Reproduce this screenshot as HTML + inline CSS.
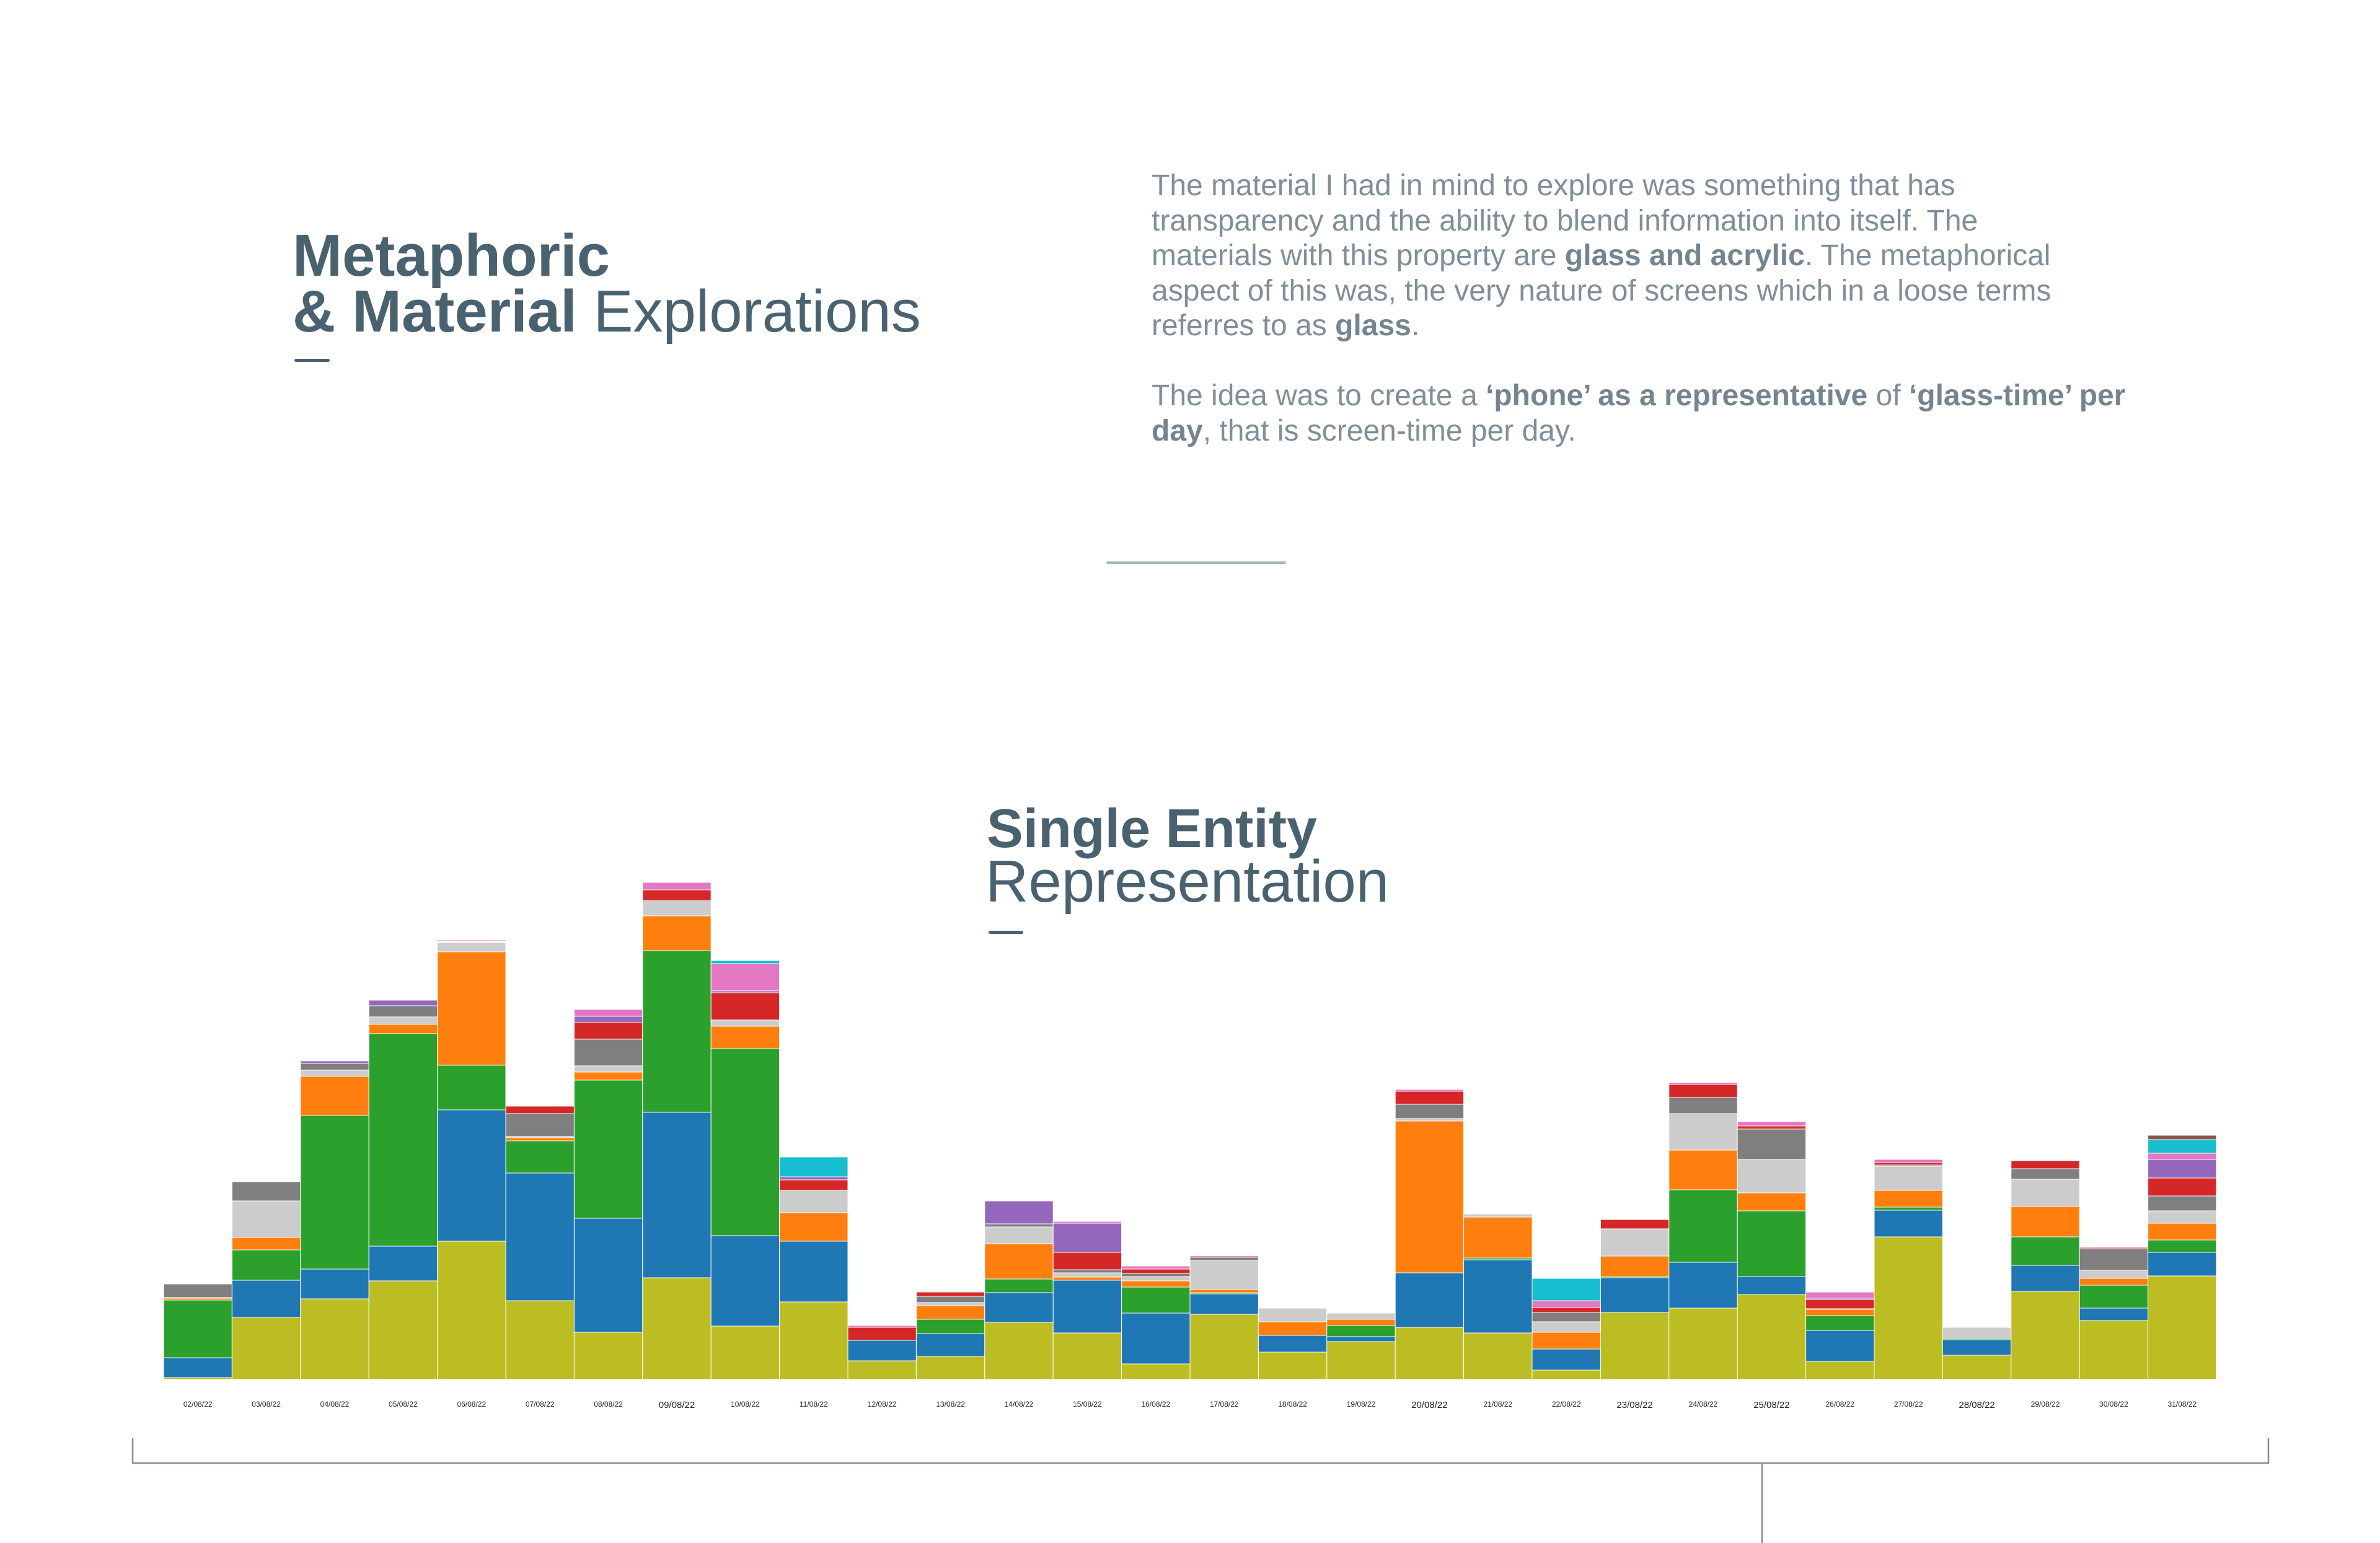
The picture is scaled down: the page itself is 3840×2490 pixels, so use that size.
<!DOCTYPE html>
<html><head><meta charset="utf-8">
<style>
html,body{margin:0;padding:0;background:#fff;}
#page{position:relative;width:3840px;height:2490px;overflow:hidden;background:#fff;font-family:"Liberation Sans",sans-serif;}
.t{position:absolute;color:#4a6270;white-space:nowrap;}
.p{position:absolute;left:1858px;top:272px;width:1800px;font-size:48px;line-height:56.5px;color:#7f8f99;white-space:nowrap;}
.p b{color:#75858f;}
.dash{position:absolute;height:5px;background:#4a6270;border-radius:3px;}
</style></head><body>
<div id="page">
  <div class="t" style="left:472px;top:368px;font-size:96px;line-height:90px;font-weight:bold;">Metaphoric</div>
  <div class="t" style="left:472px;top:458px;font-size:96px;line-height:90px;"><b>&amp; Material</b> Explorations</div>
  <div class="dash" style="left:475px;top:579px;width:57px;"></div>
  <div class="p">The material I had in mind to explore was something that has<br>transparency and the ability to blend information into itself. The<br>materials with this property are <b>glass and acrylic</b>. The metaphorical<br>aspect of this was, the very nature of screens which in a loose terms<br>referres to as <b>glass</b>.<br><br>The idea was to create a <b>‘phone’ as a representative</b> of <b>‘glass-time’ per<br>day</b>, that is screen-time per day.</div>
  <div style="position:absolute;left:1785px;top:906px;width:290px;height:4px;background:#a9b5bd;border-radius:2px;"></div>
  <div class="t" style="left:1592px;top:1292px;font-size:88px;line-height:90px;font-weight:bold;">Single Entity</div>
  <div class="t" style="left:1590px;top:1378px;font-size:96px;line-height:90px;">Representation</div>
  <div class="dash" style="left:1595px;top:1502px;width:56px;"></div>
  <svg id="chart" width="3840" height="2490" style="position:absolute;left:0;top:0;">
    <g id="bars"></g><g id="labels"></g>
    <path d="M214 2321 V2361 H3660 V2321 M2843 2361 V2503" fill="none" stroke="#8a8a8a" stroke-width="2.5"/>
  </svg>
</div>
<script>
const dates=["02/08/22","03/08/22","04/08/22","05/08/22","06/08/22","07/08/22","08/08/22","09/08/22","10/08/22","11/08/22","12/08/22","13/08/22","14/08/22","15/08/22","16/08/22","17/08/22","18/08/22","19/08/22","20/08/22","21/08/22","22/08/22","23/08/22","24/08/22","25/08/22","26/08/22","27/08/22","28/08/22","29/08/22","30/08/22","31/08/22"];
const emphasized=[7,18,21,23,26];
const olive=[3,100,130,159,223,127,76,164,86,125,30,37,92,75,25,105,44,61,84,75,15,108,115,137,29,230,39,142,95,167];
const blue=[32,60,48,56,212,206,184,267,146,98,33,37,48,85,82,33,27,8,88,118,34,56,74,29,50,43,25,42,20,38];
const green=[93,49,248,343,72,52,223,261,302,0,0,23,22,0,42,2,0,18,0,3,0,2,117,106,24,5,2,46,37,20];
const orange=[3,20,63,15,183,5,13,56,36,46,0,22,57,5,10,5,22,10,245,66,27,33,64,29,10,27,0,49,11,27];
const lightgray=[1,59,10,12,15,2,10,23,10,36,0,5,27,7,7,47,22,10,4,5,17,44,59,54,1,39,18,44,13,20];
const gray=[22,31,11,18,1,37,43,2,0,0,0,10,5,5,5,5,0,1,23,0,15,0,26,49,0,2,0,17,35,24];
const red=[0,0,0,0,0,12,27,17,44,17,21,7,0,28,7,2,0,0,21,0,8,15,21,5,15,4,0,13,2,29];
const purple=[0,0,4,9,1,0,10,0,3,5,0,0,37,47,0,0,0,0,0,0,0,0,0,0,2,0,0,0,0,30];
const pink=[0,0,0,0,2,1,11,12,44,0,3,0,0,3,5,0,0,0,3,0,11,0,3,7,10,5,0,0,0,10];
const cyan=[0,0,0,0,0,0,0,0,5,32,0,0,0,0,0,0,0,0,0,0,36,0,0,0,0,0,0,0,0,22];
const brown=[0,0,0,0,0,0,0,0,0,0,0,0,0,0,0,0,0,1,0,0,0,0,0,0,0,0,0,0,0,7];
const seriesNames=["olive","blue","green","orange","lightgray","gray","red","purple","pink","cyan","brown"];
const seriesData=[olive,blue,green,orange,lightgray,gray,red,purple,pink,cyan,brown];
const colors=["#bcbd22","#1f77b4","#2ca02c","#ff7f0e","#cccccc","#7f7f7f","#d62728","#9467bd","#e377c2","#17becf","#8c564b"];
const NS="http://www.w3.org/2000/svg";
const x0=264,bw=110.4,baseY=2226,k=1;
function xPos(i){return x0+i*bw;}
function yPos(v){return baseY-v*k;}
const gb=document.getElementById('bars'),gl=document.getElementById('labels');
dates.forEach((d,i)=>{
  let cum=0;
  seriesData.forEach((s,j)=>{
    const v=s[i]; if(!v) return;
    const r=document.createElementNS(NS,'rect');
    r.setAttribute('x',xPos(i));r.setAttribute('width',bw);
    r.setAttribute('y',yPos(cum+v));r.setAttribute('height',v*k);
    r.setAttribute('fill',colors[j]);r.setAttribute('stroke','#fff');r.setAttribute('stroke-width','1');
    
    
    gb.appendChild(r);cum+=v;
  });
  const t=document.createElementNS(NS,'text');
  const big=emphasized.includes(i);
  t.setAttribute('x',xPos(i)+bw/2);t.setAttribute('y',big?2272:2270);
  t.setAttribute('text-anchor','middle');t.setAttribute('font-size',big?15:12);
  t.setAttribute('font-family','Liberation Sans, sans-serif');t.setAttribute('fill','#222');
  t.textContent=d;
  
  
  gl.appendChild(t);
});
</script>
</body></html>
